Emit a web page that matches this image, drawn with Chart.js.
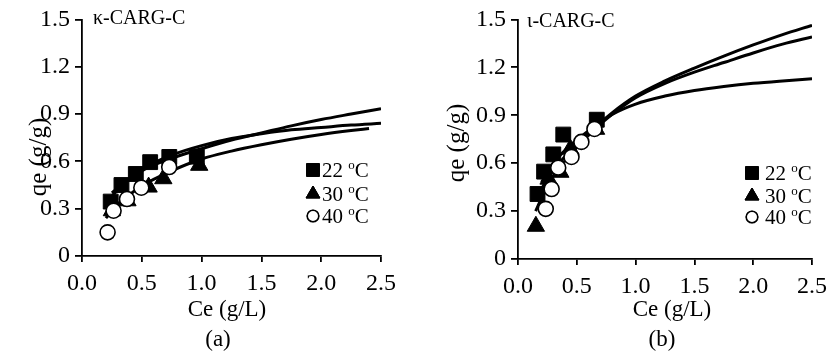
<!DOCTYPE html>
<html>
<head>
<meta charset="utf-8">
<script src="https://cdn.jsdelivr.net/npm/chart.js@4.4.0/dist/chart.umd.min.js"></script>
<style>
  html, body { margin: 0; padding: 0; background: #fff; }
  .panel { position: absolute; top: 0; width: 417px; height: 356px; }
</style>
</head>
<body>
<div class="panel" style="left:0"><canvas id="kappa"></canvas></div>
<div class="panel" style="left:417px"><canvas id="iota"></canvas></div>
<script>
// axis tick labels
const xTickLabels = ['0.0', '0.5', '1.0', '1.5', '2.0', '2.5'];
const yTickLabels = ['0', '0.3', '0.6', '0.9', '1.2', '1.5'];
const temps = ['22', '30', '40'];

// kappa-carrageenan composite, measured points
const kCe22 = [0.24, 0.33, 0.45, 0.57, 0.73, 0.96];
const kQe22 = [0.345, 0.45, 0.52, 0.595, 0.628, 0.63];
const kCe30 = [0.25, 0.38, 0.557, 0.68, 0.98];
const kQe30 = [0.287, 0.35, 0.437, 0.49, 0.575];
const kCe40 = [0.214, 0.264, 0.376, 0.496, 0.729];
const kQe40 = [0.15, 0.287, 0.361, 0.433, 0.564];

// kappa fitted isotherms
const kFitCeA = [0.25, 0.35, 0.5, 0.75, 1.0, 1.25, 1.5, 1.75, 2.0, 2.25, 2.5];
const kFitQeA = [0.40, 0.46, 0.54, 0.62, 0.68, 0.735, 0.78, 0.825, 0.865, 0.90, 0.934];
const kFitCeB = [0.24, 0.35, 0.5, 0.75, 1.0, 1.25, 1.5, 1.75, 2.0, 2.25, 2.5];
const kFitQeB = [0.37, 0.46, 0.55, 0.64, 0.70, 0.745, 0.775, 0.80, 0.815, 0.83, 0.841];
const kFitCeC = [0.2, 0.3, 0.4, 0.5, 0.75, 1.0, 1.25, 1.5, 1.75, 2.0, 2.25, 2.4];
const kFitQeC = [0.24, 0.33, 0.39, 0.445, 0.54, 0.615, 0.665, 0.705, 0.74, 0.77, 0.795, 0.808];

// iota-carrageenan composite, measured points
const iCe22 = [0.166, 0.222, 0.30, 0.385, 0.67];
const iQe22 = [0.407, 0.547, 0.655, 0.779, 0.872];
const iCe30 = [0.152, 0.26, 0.36, 0.445, 0.664];
const iQe30 = [0.205, 0.50, 0.543, 0.688, 0.812];
const iCe40 = [0.236, 0.286, 0.342, 0.455, 0.539, 0.65];
const iQe40 = [0.314, 0.438, 0.572, 0.639, 0.733, 0.814];

// iota fitted isotherms
const iFitCeA = [0.17, 0.25, 0.35, 0.5, 0.65, 0.8, 1.0, 1.25, 1.5, 1.75, 2.0, 2.25, 2.5];
const iFitQeA = [0.40, 0.50, 0.60, 0.72, 0.82, 0.915, 1.02, 1.115, 1.195, 1.27, 1.34, 1.405, 1.463];
const iFitCeB = [0.15, 0.25, 0.35, 0.5, 0.65, 0.8, 1.0, 1.25, 1.5, 1.75, 2.0, 2.25, 2.5];
const iFitQeB = [0.30, 0.46, 0.57, 0.70, 0.81, 0.905, 1.01, 1.10, 1.17, 1.23, 1.29, 1.345, 1.39];
const iFitCeC = [0.2, 0.3, 0.4, 0.5, 0.65, 0.8, 1.0, 1.25, 1.5, 1.75, 2.0, 2.25, 2.5];
const iFitQeC = [0.48, 0.60, 0.68, 0.745, 0.83, 0.905, 0.97, 1.02, 1.055, 1.08, 1.10, 1.115, 1.128];

const SERIF = "'Liberation Serif', 'Times New Roman', serif";

function pts(xs, ys) {
  return xs.map((x, i) => ({ x: x, y: ys[i] }));
}

const markers = [
  { pointStyle: 'rect', radius: 10.5, backgroundColor: '#000', borderWidth: 1, legendRadius: 9 },
  { pointStyle: 'triangle', radius: 10, backgroundColor: '#000', borderWidth: 1, legendRadius: 8 },
  { pointStyle: 'circle', radius: 7.5, backgroundColor: '#fff', borderWidth: 1.6, legendRadius: 5.8 }
];

function scatterSet(xs, ys, k) {
  const m = markers[k];
  return {
    label: temps[k] + ' oC',
    data: pts(xs, ys),
    showLine: false,
    pointStyle: m.pointStyle,
    pointRadius: m.radius,
    pointBackgroundColor: m.backgroundColor,
    pointBorderColor: '#000',
    pointBorderWidth: m.borderWidth,
    order: 3 - k
  };
}

function fitSet(xs, ys) {
  return {
    data: pts(xs, ys),
    showLine: true,
    pointRadius: 0,
    borderColor: '#000',
    borderWidth: 3,
    cubicInterpolationMode: 'monotone',
    order: 10
  };
}

// panel text and legend, drawn on top of the plot
const panelText = {
  id: 'panelText',
  afterDraw(chart, args, o) {
    const ctx = chart.ctx;
    ctx.save();
    ctx.fillStyle = '#000';
    ctx.textBaseline = 'middle';

    ctx.font = '20px ' + SERIF;
    ctx.textAlign = 'left';
    ctx.fillText(o.name, o.nameX, o.nameY);

    ctx.font = '23px ' + SERIF;
    ctx.textAlign = 'center';
    ctx.fillText('Ce (g/L)', o.xTitleX, 310);
    ctx.fillText(o.tag, o.tagX, 340);

    ctx.save();
    ctx.translate(o.yTitleX, o.yTitleY);
    ctx.rotate(-Math.PI / 2);
    ctx.font = '25px ' + SERIF;
    ctx.fillText('qe (g/g)', 0, 0);
    ctx.restore();

    temps.forEach((t, k) => {
      const m = markers[k];
      const y = o.legendY[k];
      Chart.helpers.drawPoint(ctx, {
        pointStyle: m.pointStyle,
        radius: m.legendRadius,
        rotation: 0,
        borderWidth: m.borderWidth
      }, o.legendX, y);
      ctx.fillStyle = m.backgroundColor;
      ctx.strokeStyle = '#000';
      ctx.lineWidth = m.borderWidth;
      ctx.fill();
      ctx.stroke();

      ctx.fillStyle = '#000';
      ctx.textAlign = 'left';
      ctx.font = '21px ' + SERIF;
      let x = o.legendTextX;
      const lead = t + ' ';
      ctx.fillText(lead, x, y + 1);
      x += ctx.measureText(lead).width;
      ctx.font = '13px ' + SERIF;
      ctx.fillText('o', x, y - 4);
      x += ctx.measureText('o').width;
      ctx.font = '21px ' + SERIF;
      ctx.fillText('C', x, y + 1);
    });
    ctx.restore();
  }
};

function makeChart(id, datasets, box, text) {
  const tickFont = { family: SERIF, size: 24 };
  return new Chart(document.getElementById(id), {
    type: 'scatter',
    data: { datasets: datasets },
    options: {
      responsive: true,
      maintainAspectRatio: false,
      animation: false,
      layout: { padding: { left: 0, top: box.top, right: box.right, bottom: 0 } },
      plugins: { legend: { display: false }, tooltip: { enabled: false }, panelText: text },
      scales: {
        x: {
          type: 'linear', min: 0, max: 2.5,
          border: { color: '#000', width: 1.8 },
          grid: { drawOnChartArea: false, color: '#000', lineWidth: 1.8, tickLength: 6 },
          ticks: {
            stepSize: 0.5, color: '#000', font: tickFont, padding: 7, maxRotation: 0,
            callback: (v, i) => xTickLabels[i]
          },
          afterFit: s => { s.height = box.xHeight; }
        },
        y: {
          type: 'linear', min: 0, max: 1.5,
          border: { color: '#000', width: 1.8 },
          grid: { drawOnChartArea: false, color: '#000', lineWidth: 1.8, tickLength: 7 },
          ticks: {
            stepSize: 0.3, color: '#000', font: tickFont, padding: 5,
            callback: (v, i) => yTickLabels[i]
          },
          afterFit: s => { s.width = box.yWidth; }
        }
      }
    },
    plugins: [panelText]
  });
}

makeChart('kappa', [
  fitSet(kFitCeA, kFitQeA),
  fitSet(kFitCeB, kFitQeB),
  fitSet(kFitCeC, kFitQeC),
  scatterSet(kCe22, kQe22, 0),
  scatterSet(kCe30, kQe30, 1),
  scatterSet(kCe40, kQe40, 2)
], { top: 12, right: 36, xHeight: 100, yWidth: 82 }, {
  name: '\u03ba-CARG-C', nameX: 93, nameY: 19,
  xTitleX: 227, tag: '(a)', tagX: 218,
  yTitleX: 39, yTitleY: 157,
  legendX: 313, legendTextX: 322, legendY: [170, 194, 216]
});

makeChart('iota', [
  fitSet(iFitCeA, iFitQeA),
  fitSet(iFitCeB, iFitQeB),
  fitSet(iFitCeC, iFitQeC),
  scatterSet(iCe22, iQe22, 0),
  scatterSet(iCe30, iQe30, 1),
  scatterSet(iCe40, iQe40, 2)
], { top: 17, right: 19, xHeight: 97, yWidth: 101 }, {
  name: '\u03b9-CARG-C', nameX: 110, nameY: 22,
  xTitleX: 255, tag: '(b)', tagX: 245,
  yTitleX: 40, yTitleY: 143,
  legendX: 335, legendTextX: 348, legendY: [173, 196, 217]
});
</script>
</body>
</html>
